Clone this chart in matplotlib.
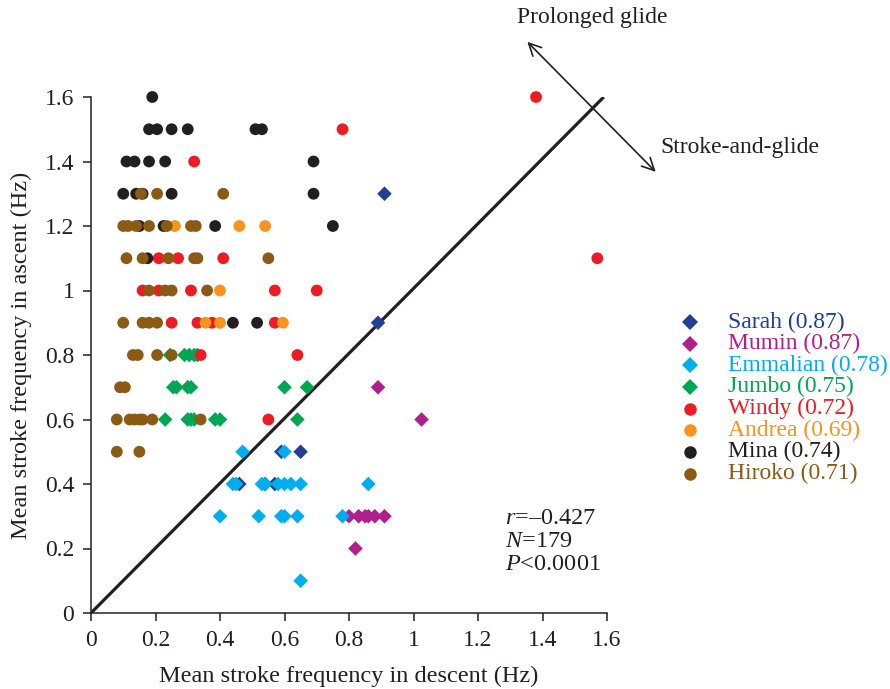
import numpy as np
import matplotlib.pyplot as plt
from matplotlib.lines import Line2D

plt.rcParams['font.family'] = ['Liberation Serif', 'DejaVu Serif']
plt.rcParams['mathtext.fontset'] = 'custom'
plt.rcParams['mathtext.rm'] = 'Liberation Serif'
plt.rcParams['mathtext.it'] = 'Liberation Serif:italic'

INK = '#231f20'

# individuals: name, descent (x), ascent (y)
sarah_x = [0.91, 0.89, 0.59, 0.65, 0.46, 0.54, 0.57]
sarah_y = [1.3, 0.9, 0.5, 0.5, 0.4, 0.4, 0.4]

mumin_x = [0.89, 1.025, 0.80, 0.83, 0.85, 0.86, 0.88, 0.91, 0.82]
mumin_y = [0.7, 0.6, 0.3, 0.3, 0.3, 0.3, 0.3, 0.3, 0.2]

emmalian_x = [0.47, 0.60, 0.44, 0.45, 0.53, 0.54, 0.58, 0.60, 0.62, 0.65, 0.86,
              0.40, 0.52, 0.59, 0.60, 0.64, 0.78, 0.65]
emmalian_y = [0.5, 0.5, 0.4, 0.4, 0.4, 0.4, 0.4, 0.4, 0.4, 0.4, 0.4,
              0.3, 0.3, 0.3, 0.3, 0.3, 0.3, 0.1]

jumbo_x = [0.245, 0.29, 0.305, 0.32, 0.33,
           0.255, 0.265, 0.30, 0.31, 0.60, 0.67,
           0.23, 0.30, 0.31, 0.32, 0.385, 0.40, 0.64]
jumbo_y = [0.8, 0.8, 0.8, 0.8, 0.8,
           0.7, 0.7, 0.7, 0.7, 0.7, 0.7,
           0.6, 0.6, 0.6, 0.6, 0.6, 0.6, 0.6]

windy_x = [1.38, 0.78, 0.32, 0.21, 0.27, 0.41, 1.57, 0.16, 0.21, 0.31, 0.57, 0.70,
           0.25, 0.33, 0.375, 0.57, 0.34, 0.64, 0.55]
windy_y = [1.6, 1.5, 1.4, 1.1, 1.1, 1.1, 1.1, 1.0, 1.0, 1.0, 1.0, 1.0,
           0.9, 0.9, 0.9, 0.9, 0.8, 0.8, 0.6]

andrea_x = [0.26, 0.46, 0.54, 0.40, 0.355, 0.40, 0.595]
andrea_y = [1.2, 1.2, 1.2, 1.0, 0.9, 0.9, 0.9]

mina_x = [0.19,
          0.18, 0.205, 0.25, 0.30, 0.51, 0.53,
          0.11, 0.135, 0.18, 0.23, 0.69,
          0.10, 0.14, 0.16, 0.25, 0.69,
          0.15, 0.225, 0.385, 0.75,
          0.175, 0.44, 0.515]
mina_y = [1.6,
          1.5, 1.5, 1.5, 1.5, 1.5, 1.5,
          1.4, 1.4, 1.4, 1.4, 1.4,
          1.3, 1.3, 1.3, 1.3, 1.3,
          1.2, 1.2, 1.2, 1.2,
          1.1, 0.9, 0.9]

hiroko_x = [0.155, 0.205, 0.41,
            0.10, 0.115, 0.14, 0.18, 0.235, 0.31, 0.325,
            0.11, 0.16, 0.24, 0.32, 0.33, 0.55,
            0.18, 0.23, 0.25, 0.36,
            0.10, 0.16, 0.18, 0.205,
            0.13, 0.145, 0.205, 0.25,
            0.09, 0.105,
            0.08, 0.12, 0.135, 0.15, 0.16, 0.19, 0.34,
            0.08, 0.15]
hiroko_y = [1.3, 1.3, 1.3,
            1.2, 1.2, 1.2, 1.2, 1.2, 1.2, 1.2,
            1.1, 1.1, 1.1, 1.1, 1.1, 1.1,
            1.0, 1.0, 1.0, 1.0,
            0.9, 0.9, 0.9, 0.9,
            0.8, 0.8, 0.8, 0.8,
            0.7, 0.7,
            0.6, 0.6, 0.6, 0.6, 0.6, 0.6, 0.6,
            0.5, 0.5]

names = ['Sarah', 'Mumin', 'Emmalian', 'Jumbo', 'Windy', 'Andrea', 'Mina', 'Hiroko']
scores = ['0.87', '0.87', '0.78', '0.75', '0.72', '0.69', '0.74', '0.71']
colors = ['#233f95', '#b01f8c', '#00aeef', '#00a651', '#ed1c24', '#f7941d', INK, '#8b5a14']
markers = ['D', 'D', 'D', 'D', 'o', 'o', 'o', 'o']
xs = [sarah_x, mumin_x, emmalian_x, jumbo_x, windy_x, andrea_x, mina_x, hiroko_x]
ys = [sarah_y, mumin_y, emmalian_y, jumbo_y, windy_y, andrea_y, mina_y, hiroko_y]
draw_order = [0, 2, 1, 3, 6, 4, 5, 7]

xticks = [0, 0.2, 0.4, 0.6, 0.8, 1.0, 1.2, 1.4, 1.6]
ticklabels = ['0', '0.2', '0.4', '0.6', '0.8', '1', '1.2', '1.4', '1.6']

fig = plt.figure(figsize=(8.9, 6.89), dpi=100)
ax = fig.add_axes([91 / 890, 1 - 613 / 689, 516 / 890, 516 / 689])

for i in draw_order:
    size = 55 if markers[i] == 'D' else 72
    ax.scatter(xs[i], ys[i], s=size, marker=markers[i], color=colors[i],
               edgecolors='none', zorder=3 + i, clip_on=False)

ax.plot([0, 1.59], [0, 1.6], color=INK, lw=2.3, zorder=2, solid_capstyle='butt')

ax.annotate('', xy=(1.353, 1.771), xytext=(1.751, 1.368), annotation_clip=False,
            arrowprops=dict(arrowstyle='<->', lw=1.2, color=INK, mutation_scale=22,
                            shrinkA=0, shrinkB=0))

ax.set_xlim(0, 1.6)
ax.set_ylim(0, 1.6)
ax.set_xticks(xticks)
ax.set_xticklabels(ticklabels)
ax.set_yticks(xticks)
ax.set_yticklabels(ticklabels)
ax.tick_params(direction='out', length=6, width=1.1, colors=INK, labelsize=17, pad=6)
for side in ['top', 'right']:
    ax.spines[side].set_visible(False)
for side in ['left', 'bottom']:
    ax.spines[side].set_linewidth(1.1)
    ax.spines[side].set_color(INK)

ax.set_xlabel('Mean stroke frequency in descent (Hz)', fontsize=17.5, color=INK, labelpad=11)
ax.set_ylabel('Mean stroke frequency in ascent (Hz)', fontsize=17.5, color=INK, labelpad=9)

fig.text(517 / 890, 1 - 18 / 689, 'Prolonged glide', fontsize=17, color=INK, va='center')
fig.text(660 / 890, 1 - 148 / 689, 'Stroke-and-glide', fontsize=17, color=INK, va='center')

stats = ['$r$=\u20130.427', '$N$=179', '$P$<0.0001']
for k, s in enumerate(stats):
    fig.text(505 / 890, 1 - (518 + 23.5 * k) / 689, s, fontsize=17.5, color=INK, va='center')

for k in range(len(names)):
    yy = 1 - (322 + 21.65 * k) / 689
    ms = 8 if markers[k] == 'D' else 9
    fig.add_artist(Line2D([690 / 890], [yy], marker=markers[k], markersize=ms,
                          color=colors[k], markeredgewidth=0, linestyle='none',
                          transform=fig.transFigure))
    fig.text(728 / 890, yy, names[k] + ' (' + scores[k] + ')', fontsize=17,
             color=colors[k], va='center')

fig.savefig('out.png', dpi=100)
